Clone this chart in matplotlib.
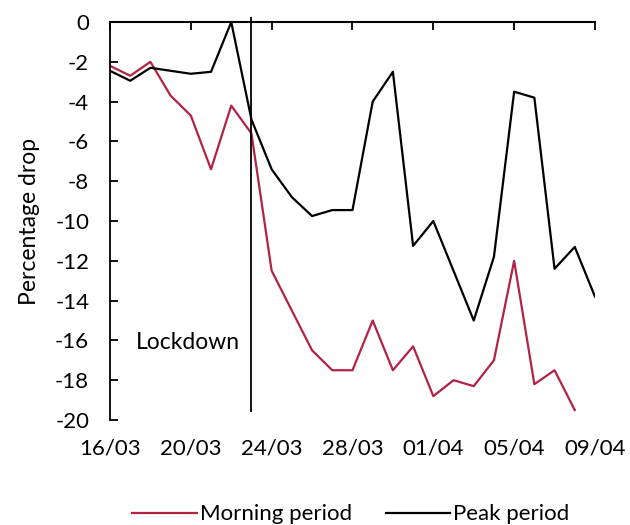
import numpy as np
import matplotlib
matplotlib.use('Agg')
import matplotlib.pyplot as plt

plt.rcParams['font.family'] = ['Lato', 'DejaVu Sans']
plt.rcParams['axes.unicode_minus'] = False

# days since 16/03
tick_days = [0, 4, 8, 12, 16, 20, 24]
tick_labels = ['16/03', '20/03', '24/03', '28/03', '01/04', '05/04', '09/04']

morning = [-2.2, -2.7, -2.0, -3.7, -4.7, -7.4, -4.2, -5.6, -12.5, -14.5, -16.5, -17.5,
           -17.5, -15.0, -17.5, -16.3, -18.8, -18.0, -18.3, -17.0, -12.0, -18.2, -17.5, -19.5]
peak = [-2.45, -2.95, -2.3, -2.45, -2.6, -2.5, 0.0, -4.9, -7.4, -8.8, -9.75, -9.45,
        -9.45, -4.0, -2.5, -11.25, -10.0, -12.5, -15.0, -11.8, -3.5, -3.8, -12.4, -11.3, -13.8]

lockdown_day = 7

fig = plt.figure(figsize=(6.3, 5.25), dpi=100)
ax = fig.add_axes([0.1746, 0.2, 0.7698, 0.758])

ax.plot(np.arange(len(morning)), morning, color='#B22245', lw=1.6, label='Morning period')
ax.plot(np.arange(len(peak)), peak, color='black', lw=1.6, label='Peak period')
ax.vlines(lockdown_day, -19.6, 0.25, color='black', lw=1.3, clip_on=False)
ax.text(lockdown_day - 0.55, -16.1, 'Lockdown', ha='right', va='center', fontsize=16.5)

ax.set_xlim(0, 24)
ax.set_ylim(-20, 0)
ax.set_xticks(tick_days)
ax.set_xticklabels(tick_labels, fontsize=16)
ax.set_yticks(np.arange(-20, 1, 2))
ax.tick_params(axis='y', direction='in', length=6, width=1.3, pad=15, labelsize=16)
ax.tick_params(axis='x', direction='in', length=6, width=1.3, top=True, bottom=False,
               labeltop=False, labelbottom=True, pad=13)
ax.spines['right'].set_visible(False)
ax.spines['bottom'].set_visible(False)
ax.spines['top'].set_linewidth(1.5)
ax.spines['left'].set_linewidth(1.3)
ax.set_ylabel('Percentage drop', fontsize=16.5, labelpad=11)

fig.legend(loc='center', bbox_to_anchor=(0.557, 0.02), ncol=2, frameon=False, fontsize=16,
           handlelength=2.9, handletextpad=0.15, columnspacing=1.5)

plt.savefig('out.png', dpi=100)
